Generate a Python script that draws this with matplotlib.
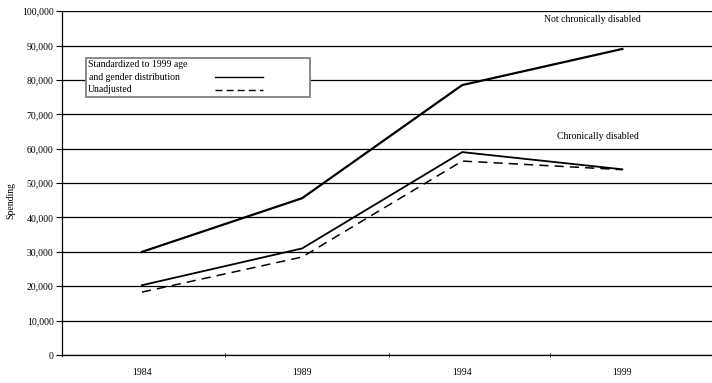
import matplotlib
matplotlib.use('Agg')
import matplotlib.pyplot as plt
from matplotlib.patches import Rectangle

years = ['1984', '1989', '1994', '1999']
not_chronic = [30000, 45600, 78500, 89000]
chronic_std = [20300, 31000, 59000, 54000]
chronic_unadj = [18300, 28500, 56400, 53900]

plt.rcParams['font.family'] = ['Liberation Serif', 'DejaVu Serif']

fig = plt.figure(figsize=(7.12, 3.83), dpi=100)
ax = fig.add_axes([0.087, 0.073, 0.913, 0.898])

x = range(len(years))
ax.plot(x, not_chronic, color='black', lw=1.6)
ax.plot(x, chronic_std, color='black', lw=1.3)
ax.plot(x, chronic_unadj, color='black', lw=1.1, ls=(0, (6, 4)))

ax.set_ylim(0, 100000)
ax.set_xlim(-0.5, 3.56)
ax.set_yticks(range(0, 100001, 10000))
ax.set_yticklabels([f'{v:,}' for v in range(0, 100001, 10000)], fontsize=7)
ax.yaxis.grid(True, color='black', lw=0.9)
ax.set_axisbelow(True)

ax.set_xticks(list(x))
ax.set_xticklabels(years, fontsize=7)
ax.tick_params(axis='x', length=0, pad=9)
ax.set_xticks([-0.5, 0.52, 1.54, 2.55, 3.56], minor=True)
ax.tick_params(axis='x', which='minor', length=3, direction='inout')
ax.tick_params(axis='y', length=4, direction='out', pad=2)

for side in ['top', 'right']:
    ax.spines[side].set_visible(False)
ax.spines['left'].set_linewidth(0.9)
ax.spines['bottom'].set_linewidth(0.9)

ax.set_ylabel('Spending', fontsize=7)
ax.yaxis.set_label_coords(-0.072, 0.45)

ax.text(2.81, 97500, 'Not chronically disabled', fontsize=7, ha='center', va='center')
ax.text(2.85, 63500, 'Chronically disabled', fontsize=7, ha='center', va='center')

# legend box drawn by hand (text left, line samples right)
tr = ax.transAxes
ax.add_patch(Rectangle((0.037, 0.75), 0.345, 0.115, transform=tr, facecolor='white',
                       edgecolor='#808080', lw=1.3, zorder=5))
ax.text(0.04, 0.845, 'Standardized to 1999 age', transform=tr, fontsize=7, va='center', zorder=6)
ax.text(0.042, 0.808, 'and gender distribution', transform=tr, fontsize=7, va='center', zorder=6)
ax.text(0.04, 0.772, 'Unadjusted', transform=tr, fontsize=7, va='center', zorder=6)
ax.plot([0.235, 0.31], [0.808, 0.808], transform=tr, color='black', lw=1.0, zorder=6)
ax.plot([0.235, 0.31], [0.772, 0.772], transform=tr, color='black', lw=1.0,
        ls=(0, (5, 3)), zorder=6)

fig.savefig('out.png', dpi=100)
